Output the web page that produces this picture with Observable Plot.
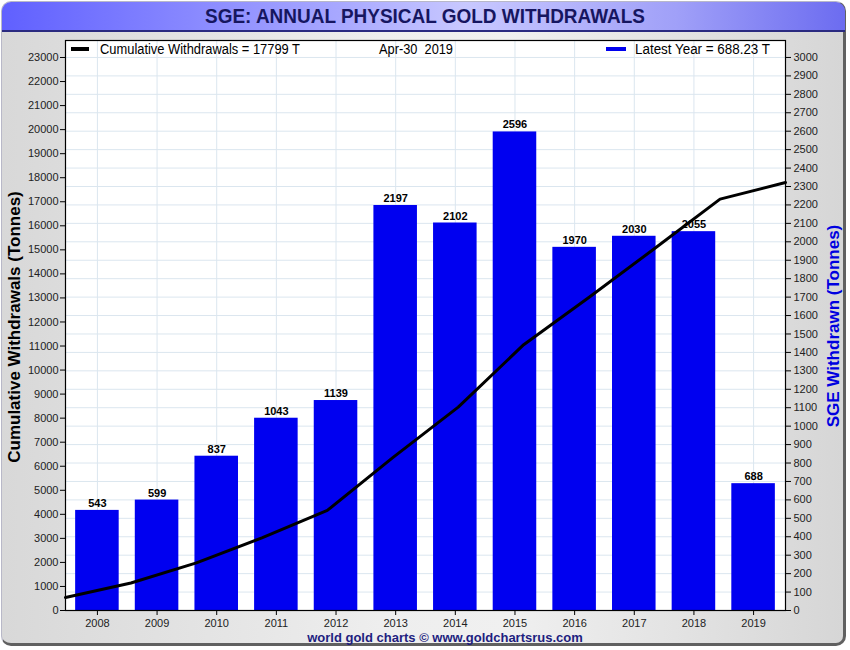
<!DOCTYPE html>
<html>
<head>
<meta charset="utf-8">
<script src="https://cdn.jsdelivr.net/npm/d3@7"></script>
<script src="https://cdn.jsdelivr.net/npm/@observablehq/plot@0.6"></script>
<style>
  html, body { margin: 0; padding: 0; background: #ffffff; }
  #wrap {
    position: relative; width: 850px; height: 650px; overflow: hidden;
    font-family: "Liberation Sans", Arial, sans-serif;
  }
  #card {
    position: absolute; left: 1px; top: 1px; width: 845px; height: 645px;
    border-radius: 10px; box-sizing: border-box;
    border: 1px solid #b8b8c8; border-right: 3px solid #606060; border-bottom: 3px solid #606060;
    background: linear-gradient(to right, #d8d8d8 0%, #eeeeee 45%, #f0f0f0 60%, #d6d6d6 100%);
  }
  #titlebar {
    position: absolute; left: 2px; top: 2px; width: 843px; height: 28px;
    border-radius: 9px 9px 0 0;
    border-bottom: 2px solid #2a2a80;
    background: linear-gradient(to right, #6060ff 0%, #a8a8ff 40%, #c8c8ff 55%, #a0a0f8 80%, #6c6cf0 100%);
  }
  .layer { position: absolute; left: 0; top: 0; }
  .layer svg { background: transparent !important; }
  .ylab {
    position: absolute; white-space: nowrap; font-weight: bold; font-size: 17px;
    transform: translate(-50%, -50%) rotate(-90deg);
  }
  #footer {
    position: absolute; left: 445px; top: 630px; transform: translateX(-50%);
    font-weight: bold; font-size: 13px; color: #1e1e80; white-space: nowrap;
  }
  #overlay { position: absolute; left: 0; top: 0; pointer-events: none; }
</style>
</head>
<body>
<div id="wrap">
  <div id="card"></div>
  <div id="titlebar"></div>
  <div id="bars" class="layer"></div>
  <div id="line" class="layer"></div>
  <svg id="overlay" width="850" height="650">
    <text x="205" y="23" textLength="440" lengthAdjust="spacingAndGlyphs"
      font-family="Liberation Sans, Arial, sans-serif" font-weight="bold" font-size="20" fill="#161660">SGE: ANNUAL PHYSICAL GOLD WITHDRAWALS</text>
    <rect x="71" y="47" width="18" height="4" fill="#000"></rect>
    <text x="100" y="54" textLength="200" lengthAdjust="spacingAndGlyphs"
      font-family="Liberation Sans, Arial, sans-serif" font-size="14" fill="#000">Cumulative Withdrawals = 17799 T</text>
    <text x="379" y="54" textLength="74" lengthAdjust="spacingAndGlyphs" xml:space="preserve"
      font-family="Liberation Sans, Arial, sans-serif" font-size="14" fill="#000">Apr-30  2019</text>
    <rect x="606" y="47" width="20" height="4" fill="#0000ee"></rect>
    <text x="635" y="54" textLength="135" lengthAdjust="spacingAndGlyphs"
      font-family="Liberation Sans, Arial, sans-serif" font-size="14" fill="#000">Latest Year = 688.23 T</text>
  </svg>
  <div class="ylab" style="left:15px;top:327px;color:#000;">Cumulative Withdrawals (Tonnes)</div>
  <div class="ylab" style="left:834px;top:326px;color:#0000e0;">SGE Withdrawn (Tonnes)</div>
  <div id="footer">world gold charts © www.goldchartsrus.com</div>
</div>
<script>
// ---- data ----
const years = ["2008","2009","2010","2011","2012","2013","2014","2015","2016","2017","2018","2019"];
const annual = [543, 599, 837, 1043, 1139, 2197, 2102, 2596, 1970, 2030, 2055, 688];
const cumulative = [543, 1142, 1979, 3022, 4161, 6358, 8460, 11056, 13026, 15056, 17111, 17799];
const rightTicks = d3.range(0, 3001, 100);
const leftTicks = d3.range(0, 23001, 1000);

const barData = years.map((y, i) => ({year: y, value: annual[i]}));
const lineData = years.map((y, i) => ({year: y, value: cumulative[i]}));

const W = 850, H = 650;
const M = {marginLeft: 65, marginRight: 65, marginTop: 40, marginBottom: 40};
const tickFont = {fontFamily: "Liberation Sans, Arial, sans-serif", fontSize: "11px", background: "transparent", color: "#222"};

const bars = Plot.plot({
  width: W, height: H, ...M,
  style: tickFont,
  x: {type: "band", domain: years, paddingInner: 0.27, paddingOuter: 0.17, round: false},
  y: {domain: [0, 3092]},
  marks: [
    Plot.frame({fill: "white", stroke: null}),
    Plot.gridY(rightTicks, {stroke: "#dbe6ef", strokeOpacity: 1}),
    Plot.gridX(years, {stroke: "#dbe6ef", strokeOpacity: 1}),
    Plot.barY(barData, {x: "year", y: "value", fill: "#0000f0"}),
    Plot.text(barData, {x: "year", y: "value", text: d => String(d.value), dy: -7, fontWeight: "bold", fontSize: 11, fill: "#000"}),
    Plot.frame({stroke: "#000", strokeWidth: 1.2}),
    Plot.axisY(rightTicks, {anchor: "right", tickSize: 5, tickPadding: 3, label: null, stroke: "#000", tickFormat: d => String(d)}),
    Plot.axisX(years, {anchor: "bottom", tickSize: 5, tickPadding: 4, label: null, stroke: "#000"})
  ]
});
document.getElementById("bars").appendChild(bars);

const line = Plot.plot({
  width: W, height: H, ...M,
  style: tickFont,
  x: {type: "point", domain: years, padding: 0, round: false, axis: null},
  y: {domain: [0, 23707]},
  marks: [
    Plot.line(lineData, {x: "year", y: "value", stroke: "#000", strokeWidth: 3}),
    Plot.axisY(leftTicks, {anchor: "left", tickSize: 5, tickPadding: 2, label: null, stroke: "#000", tickFormat: d => String(d)})
  ]
});
document.getElementById("line").appendChild(line);
</script>
</body>
</html>
